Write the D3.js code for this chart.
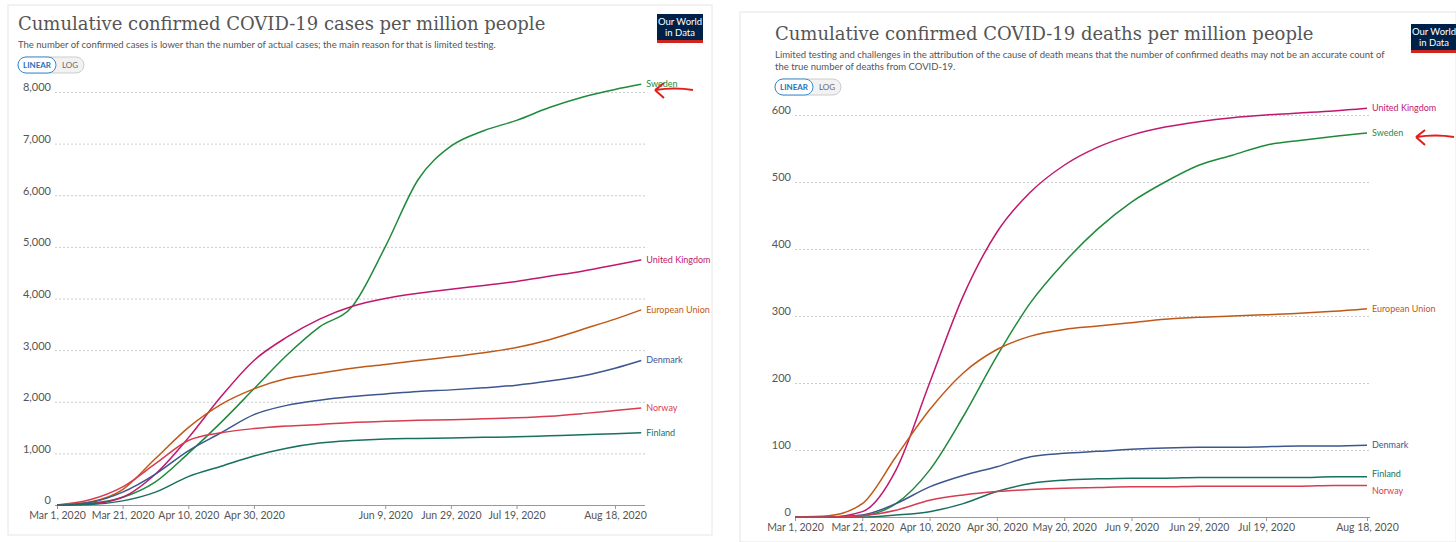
<!DOCTYPE html>
<html><head><meta charset="utf-8">
<script src="https://cdn.jsdelivr.net/npm/d3@7/dist/d3.min.js"></script>
<style>body{margin:0;background:#fff;font-family:Lato,sans-serif}</style>
</head><body><svg id="c" width="1456" height="542"></svg>
<script>
const casesDates=["2020-03-01","2020-03-11","2020-03-21","2020-03-31","2020-04-10","2020-04-20","2020-04-30","2020-05-10","2020-05-20","2020-05-30","2020-06-09","2020-06-19","2020-06-29","2020-07-09","2020-07-19","2020-07-29","2020-08-08","2020-08-18","2020-08-26"];
const casesSweden=[0,30,150,450,1000,1600,2250,2900,3450,3850,5000,6300,6950,7250,7450,7700,7900,8050,8150];
const casesUK=[0,20,150,600,1300,2100,2800,3250,3600,3850,4000,4100,4180,4250,4330,4430,4530,4650,4750];
const casesEU=[0,60,300,900,1500,1950,2250,2450,2550,2650,2720,2800,2870,2950,3050,3200,3400,3600,3780];
const casesDenmark=[0,50,250,600,1050,1400,1750,1930,2030,2100,2150,2200,2230,2270,2320,2400,2500,2650,2800];
const casesNorway=[0,100,350,800,1250,1400,1480,1530,1560,1600,1620,1640,1650,1670,1690,1720,1770,1830,1880];
const casesFinland=[0,10,80,250,550,750,950,1100,1200,1250,1280,1290,1300,1310,1320,1340,1360,1380,1400];
const deathsDates=casesDates.slice(0,18);
const deathsUK=[0,0,8,70,200,330,425,485,525,552,570,582,590,596,600,603,606,610];
const deathsSweden=[0,0,2,20,70,150,240,320,380,430,470,500,525,540,555,562,568,573];
const deathsEU=[0,2,20,90,160,215,250,270,280,285,290,295,298,300,302,304,307,311];
const deathsDenmark=[0,0,3,20,45,62,75,90,95,98,101,103,104,104,105,106,106,107];
const deathsFinland=[0,0,0,3,8,20,38,50,55,57,58,58,59,59,59,59,60,60];
const deathsNorway=[0,0,2,10,25,33,38,41,43,44,45,45,46,46,46,46,47,47];
const tickDates=["2020-03-01","2020-03-21","2020-04-10","2020-04-30","2020-06-09","2020-06-29","2020-07-19","2020-08-18"];
const deathsTickDates=["2020-03-01","2020-03-21","2020-04-10","2020-04-30","2020-05-20","2020-06-09","2020-06-29","2020-07-19","2020-08-18"];
const casesTicks=[0,1000,2000,3000,4000,5000,6000,7000,8000];
const deathsTicks=[0,100,200,300,400,500,600];
const colors={"Sweden":"#1f8a3c","United Kingdom":"#c0186e","European Union":"#c05917","Denmark":"#3c568f","Norway":"#d73c50","Finland":"#18705f"};

const svg=d3.select("#c");
const parse=d3.timeParse("%Y-%m-%d"), fmt=d3.timeFormat("%b %-d, %Y");

function panel(o){
  const g=svg.append("g");
  g.append("rect").attr("x",o.px).attr("y",o.py).attr("width",o.pw).attr("height",o.ph).attr("fill","#fff").attr("stroke","#e6e6e6");
  g.append("text").attr("x",o.tx).attr("y",o.ty).attr("font-family","DejaVu Serif,serif").attr("font-size",18).attr("fill","#555").text(o.title);
  o.sub.forEach((s,i)=>g.append("text").attr("x",o.tx).attr("y",o.ty+18+i*12).attr("font-size",9.5).attr("fill","#555").text(s));
  const by=o.by;
  g.append("rect").attr("x",o.tx).attr("y",by).attr("width",66).attr("height",16).attr("rx",8).attr("fill","#f2f2f2").attr("stroke","#ccc");
  g.append("rect").attr("x",o.tx).attr("y",by).attr("width",38).attr("height",16).attr("rx",8).attr("fill","#fff").attr("stroke","#3b8ad0");
  g.append("text").attr("x",o.tx+19).attr("y",by+11).attr("text-anchor","middle").attr("font-size",8).attr("fill","#2c6fb5").attr("font-weight","bold").text("LINEAR");
  g.append("text").attr("x",o.tx+52).attr("y",by+11).attr("text-anchor","middle").attr("font-size",8).attr("fill","#666").text("LOG");
  g.append("rect").attr("x",o.lx).attr("y",o.ly).attr("width",46).attr("height",26).attr("fill","#002147");
  g.append("rect").attr("x",o.lx).attr("y",o.ly+26).attr("width",46).attr("height",3).attr("fill","#ce261e");
  g.append("text").attr("x",o.lx+23).attr("y",o.ly+11).attr("text-anchor","middle").attr("font-size",9.5).attr("fill","#fff").text("Our World");
  g.append("text").attr("x",o.lx+23).attr("y",o.ly+22).attr("text-anchor","middle").attr("font-size",9.5).attr("fill","#fff").text("in Data");

  const x=d3.scaleTime().domain([parse("2020-03-01"),parse("2020-08-18")]).range([o.x0,o.x1]);
  const y=d3.scaleLinear().domain([0,o.ymax]).range([o.y0,o.y1]);
  const yax=g.append("g").attr("transform",`translate(${o.gl},0)`).call(d3.axisLeft(y).tickValues(o.yt).tickSize(-(o.gr-o.gl)).tickFormat(d3.format(",")));
  yax.select(".domain").remove();
  yax.selectAll("line").attr("stroke","#ccc").attr("stroke-dasharray","2,2");
  yax.selectAll("text").attr("font-size",11).attr("fill","#555").attr("font-family","Lato,sans-serif").attr("x",-4).attr("dy","-0.1em");
  yax.selectAll(".tick").filter(d=>d===0).select("line").attr("stroke","#999").attr("stroke-dasharray",null);
  const xax=g.append("g").attr("transform",`translate(0,${o.y0})`).call(d3.axisBottom(x).tickValues(o.xt.map(parse)).tickFormat(fmt).tickSize(4));
  xax.select(".domain").remove();
  xax.selectAll("line").attr("stroke","#999");
  xax.selectAll("text").attr("font-size",10.5).attr("fill","#555").attr("font-family","Lato,sans-serif");
  const line=d3.line().x(d=>x(d[0])).y(d=>y(d[1])).curve(d3.curveMonotoneX);
  o.series.forEach(s=>{
    const pts=o.dates.map((d,i)=>[parse(d),s.v[i]]);
    g.append("path").datum(pts).attr("d",line).attr("fill","none").attr("stroke",colors[s.n]).attr("stroke-width",1.5);
    const last=pts[pts.length-1];
    g.append("text").attr("x",x(last[0])+5).attr("y",y(last[1])+(s.dy||0)+3).attr("font-size",9).attr("fill",colors[s.n]).text(s.n);
  });
  const a=o.arrow;
  g.append("path").attr("d",`M${a[0]},${a[1]} Q${a[0]+20},${a[1]-3} ${a[0]+38},${a[1]} M${a[0]},${a[1]} L${a[0]+9},${a[1]-7} M${a[0]},${a[1]} L${a[0]+9},${a[1]+8}`).attr("stroke","#e0201c").attr("stroke-width",2).attr("fill","none");
}
panel({px:8,py:5,pw:704,ph:530,tx:18,ty:30,title:"Cumulative confirmed COVID-19 cases per million people",
  sub:["The number of confirmed cases is lower than the number of actual cases; the main reason for that is limited testing."],by:57,lx:657,ly:14,
  x0:57,x1:615,y0:505,y1:92,ymax:8000,yt:casesTicks,gl:55,gr:645,dates:casesDates,xt:tickDates,arrow:[655,90],
  series:[{n:"Sweden",v:casesSweden},{n:"United Kingdom",v:casesUK},{n:"European Union",v:casesEU},{n:"Denmark",v:casesDenmark},{n:"Norway",v:casesNorway},{n:"Finland",v:casesFinland}]});
panel({px:740,py:12,pw:716,ph:530,tx:775,ty:40,title:"Cumulative confirmed COVID-19 deaths per million people",
  sub:["Limited testing and challenges in the attribution of the cause of death means that the number of confirmed deaths may not be an accurate count of","the true number of deaths from COVID-19."],by:79,lx:1411,ly:24,
  x0:795,x1:1367,y0:517,y1:115,ymax:600,yt:deathsTicks,gl:795,gr:1370,dates:deathsDates,xt:deathsTickDates,arrow:[1416,137],
  series:[{n:"United Kingdom",v:deathsUK},{n:"Sweden",v:deathsSweden},{n:"European Union",v:deathsEU},{n:"Denmark",v:deathsDenmark},{n:"Finland",v:deathsFinland,dy:-3},{n:"Norway",v:deathsNorway,dy:5}]});
</script></body></html>
